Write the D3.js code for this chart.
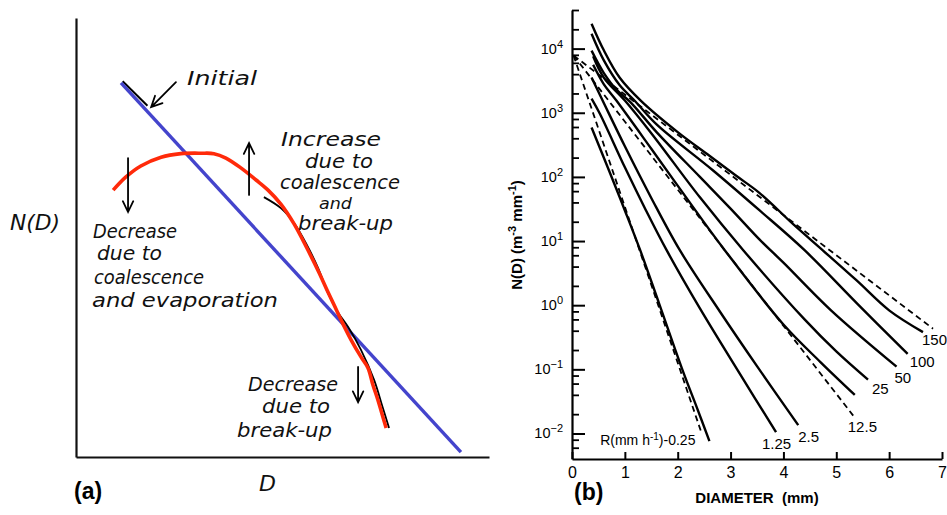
<!DOCTYPE html>
<html><head><meta charset="utf-8">
<script src="https://cdn.jsdelivr.net/npm/d3@7"></script>
<style>body{margin:0;background:#fff}svg{display:block}</style>
</head><body><svg id="c" width="947" height="515"></svg>
<script>
// ---------- Panel (b) data: N(D) [m^-3 mm^-1] vs D [mm] for rain rates ----------
const rateLabels = ["0.25","1.25","2.5","12.5","25","50","100","150"];
const curveR025 = [[0.37,590],[0.7,126],[1.0,30],[1.29,7.2],[1.65,1.05],[2.1,0.093],[2.35,0.027],[2.6,0.0076]];
const curveR125 = [[0.37,1660],[0.53,955],[1.0,141],[1.4,30],[1.79,7.2],[2.42,0.89],[3.2,0.079],[3.86,0.0105]];
const curveR25  = [[0.37,3550],[0.62,1320],[1.0,300],[1.5,47],[2.04,7.2],[2.8,0.79],[3.5,0.112],[4.28,0.0135]];
const curveR125b= [[0.4,5600],[0.6,2800],[0.84,1550],[1.5,275],[2.42,24],[2.89,7.2],[4.0,0.5],[4.7,0.13],[5.35,0.04]];
const curveR25b = [[0.4,7600],[0.6,3550],[1.0,1550],[1.5,480],[2.42,48],[3.24,7.2],[4.4,0.6],[5.0,0.19],[5.6,0.069]];
const curveR50  = [[0.37,9300],[0.6,4200],[0.85,2250],[1.1,1480],[1.6,500],[2.42,100],[3.0,32],[3.55,10.5],[4.0,4.6],[4.9,0.83],[6.14,0.11]];
const curveR100 = [[0.37,17000],[0.6,6600],[0.9,2700],[1.2,1500],[1.6,660],[2.67,126],[3.55,30],[4.4,7.2],[5.4,1.05],[6.35,0.174]];
const curveR150 = [[0.37,24500],[0.6,9500],[0.9,3550],[1.3,1550],[2.0,500],[2.6,214],[3.1,105],[3.55,56],[4.2,17.8],[4.75,7.1],[5.38,2.45],[6.0,0.83],[6.64,0.38]];
const solidCurves = [curveR025, curveR125, curveR25, curveR125b, curveR25b, curveR50, curveR100, curveR150];
// Marshall-Palmer exponential fits (dashed), read as start/end points
const mpR025 = [[0.03,7800],[2.45,0.0102]];
const mpR125 = [[0.03,7800],[5.32,0.019]];
const mpR150 = [[0.03,7800],[6.83,0.43]];
const dashedCurves = [mpR025, mpR125, mpR150];
const xTicksB = [0,1,2,3,4,5,6,7];
const yTickExps = [-2,-1,0,1,2,3,4];
const minorMults = [2,4,6,8];

// ---------- Panel (a) schematic data (arbitrary units) ----------
const initialLine = [[10.9,85.2],[93.2,1.1]];
const finalCurve = [[9.0,60.8],[12.1,63.8],[15.7,66.3],[20.6,68.3],[25.4,69.1],[30.3,69.2],[33.4,69.1],[36.3,68.1],[40.0,65.8],[43.6,63.1],[46.5,60.8],[49.6,57.6],[52.8,53.1],[55.9,47.6],[58.8,42.1],[60.8,38.0],[62.5,34.6],[64.4,30.8],[66.6,26.7],[69.0,22.8],[70.7,20.3],[71.9,16.4],[73.1,13.0],[74.1,9.8],[75.1,6.6]];
const sketchCurve = [[45.5,59.2],[49.6,56.7],[52.8,53.3],[55.9,48.3],[58.6,43.1],[61.0,37.4],[63.4,33.0],[65.9,29.6],[69.0,24.4],[72.2,17.5],[74.1,11.8],[75.8,6.6]];
const sketchStart = [[11.3,85.6],[17.3,80.0]];

const svg = d3.select("#c");
svg.append("rect").attr("width",947).attr("height",515).attr("fill","#fff");
const FB = "'Liberation Sans', Arial, sans-serif";
const FH = "'DejaVu Sans', sans-serif";

// ===== Panel (b) =====
const xB = d3.scaleLinear().domain([0,7]).range([572,942]);
const yB = d3.scaleLog().domain([0.004,40000]).range([459,10]);
const gB = svg.append("g");

const xAx = gB.append("g").attr("transform","translate(0,459)")
  .call(d3.axisBottom(xB).tickValues(xTicksB).tickSizeInner(-7).tickSizeOuter(0).tickPadding(8).tickFormat(d3.format("d")));
xAx.attr("font-family",FB).attr("font-size",16);
xAx.select(".domain").attr("stroke","#000").attr("stroke-width",2.2);
xAx.selectAll(".tick line").attr("stroke","#000").attr("stroke-width",2);
xAx.selectAll(".tick text").attr("fill","#000");

const yMajor = yTickExps.map(e => Math.pow(10,e));
const yMinor = [];
yTickExps.concat([-3]).forEach(e => minorMults.forEach(m => { const v = m*Math.pow(10,e); if (v>0.0041 && v<=40000 && !yMajor.includes(v)) yMinor.push(v); }));

const yAx = gB.append("g").attr("transform","translate(572,0)")
  .call(d3.axisLeft(yB).tickValues(yMajor).tickSizeInner(-13).tickSizeOuter(0).tickFormat(""));
yAx.select(".domain").attr("stroke","#000").attr("stroke-width",2.2);
yAx.selectAll(".tick line").attr("stroke","#000").attr("stroke-width",2);
const yAxMinor = gB.append("g").attr("transform","translate(572,0)")
  .call(d3.axisLeft(yB).tickValues(yMinor).tickSizeInner(-7).tickSizeOuter(0).tickFormat(""));
yAxMinor.select(".domain").remove();
yAxMinor.selectAll(".tick line").attr("stroke","#000").attr("stroke-width",1.8);

// y tick labels 10^n
yTickExps.forEach(e => {
  const t = gB.append("text").attr("x",563).attr("y",yB(Math.pow(10,e))+5)
    .attr("text-anchor","end").attr("font-family",FB).attr("font-size",14.5).attr("fill","#000");
  t.append("tspan").text("10");
  t.append("tspan").attr("dy",-6).attr("font-size",11).text(String(e).replace("-","\u2212"));
});

// y axis title
const yt = gB.append("text").attr("transform","translate(522,235) rotate(-90)")
  .attr("text-anchor","middle").attr("font-family",FB).attr("font-size",15).attr("font-weight","bold").attr("fill","#000");
yt.append("tspan").text("N(D)  (m");
yt.append("tspan").attr("dy",-6).attr("font-size",11).text("-3");
yt.append("tspan").attr("dy",6).text(" mm");
yt.append("tspan").attr("dy",-6).attr("font-size",11).text("-1");
yt.append("tspan").attr("dy",6).text(")");

// x axis title
gB.append("text").attr("x",757).attr("y",503).attr("text-anchor","middle")
  .attr("font-family",FB).attr("font-size",15).attr("font-weight","bold").attr("fill","#000")
  .attr("xml:space","preserve").text("DIAMETER  (mm)");

const lineB = d3.line().x(d => xB(d[0])).y(d => yB(d[1])).curve(d3.curveCatmullRom.alpha(0.5));
gB.selectAll("path.mp").data(dashedCurves).join("path").attr("class","mp")
  .attr("d", lineB).attr("fill","none").attr("stroke","#000").attr("stroke-width",1.8).attr("stroke-dasharray","6,4");
gB.selectAll("path.sol").data(solidCurves).join("path").attr("class","sol")
  .attr("d", lineB).attr("fill","none").attr("stroke","#000").attr("stroke-width",2.4);

// curve labels (offsets relative to the end of each curve)
const labelOffsets = [[-14,4],[-14,17],[0,17],[-7,37],[4,14],[-2,16],[2,13],[-1,13]];
rateLabels.forEach((lab,i) => {
  const c = solidCurves[i], end = c[c.length-1];
  const [dx,dy] = labelOffsets[i];
  const t = gB.append("text").attr("x",xB(end[0])+dx).attr("y",yB(end[1])+dy)
    .attr("font-family",FB).attr("font-size",i===0?14:15).attr("fill","#000")
    .attr("text-anchor", i===0 ? "end" : "start");
  if (i===0) {
    t.append("tspan").text("R(mm h");
    t.append("tspan").attr("dy",-5).attr("font-size",10).text("-1");
    t.append("tspan").attr("dy",5).text(")-" + lab);
  } else t.text(lab);
});

gB.append("text").attr("x",574).attr("y",500).attr("font-family",FB).attr("font-size",23)
  .attr("font-weight","bold").attr("fill","#000").text("(b)");

// ===== Panel (a) =====
const xA = d3.scaleLinear().domain([0,100]).range([76,489]);
const yA = d3.scaleLinear().domain([0,100]).range([457,18]);
const gA = svg.append("g");
const axA1 = gA.append("g").attr("transform","translate(0,457)").call(d3.axisBottom(xA).tickValues([]).tickSizeOuter(0));
const axA2 = gA.append("g").attr("transform","translate(76,0)").call(d3.axisLeft(yA).tickValues([]).tickSizeOuter(0));
[axA1,axA2].forEach(a => a.select(".domain").attr("stroke","#111").attr("stroke-width",2.2));

const lineA = d3.line().x(d => xA(d[0])).y(d => yA(d[1])).curve(d3.curveCatmullRom.alpha(0.5));
gA.append("path").datum(sketchStart).attr("d",lineA).attr("fill","none").attr("stroke","#000").attr("stroke-width",2);
gA.append("path").datum(initialLine).attr("d",lineA).attr("fill","none").attr("stroke","#4444cc").attr("stroke-width",3.4);
gA.append("path").datum(sketchCurve).attr("d",lineA).attr("fill","none").attr("stroke","#000").attr("stroke-width",1.8);
gA.append("path").datum(finalCurve).attr("d",lineA).attr("fill","none").attr("stroke","#ff2a0a").attr("stroke-width",3.6);

// arrows [from, to] in data units
const arrows = [[[24.2,85.4],[18.2,79.7]],[[41.9,59.7],[41.9,71.5]],[[12.6,68.1],[12.6,55.8]],[[68.3,20.5],[68.3,12.5]]];
arrows.forEach(([a,b]) => {
  const x1=xA(a[0]), y1=yA(a[1]), x2=xA(b[0]), y2=yA(b[1]);
  const ang = Math.atan2(y2-y1,x2-x1), L=12, w=0.45;
  const p = `M${x1},${y1}L${x2},${y2}M${x2-L*Math.cos(ang-w)},${y2-L*Math.sin(ang-w)}L${x2},${y2}L${x2-L*Math.cos(ang+w)},${y2-L*Math.sin(ang+w)}`;
  gA.append("path").attr("d",p).attr("fill","none").attr("stroke","#000").attr("stroke-width",1.8).attr("stroke-linecap","round");
});

// handwritten annotations: [text, x, baseline y, width, size]
const notes = [
  ["Initial",187,85,70,19],
  ["Increase",281,146,100,19],["due to",305,168,68,19],["coalescence",280,189,120,19],["and",319,209,33,16],["break-up",298,230,95,19],
  ["Decrease",93,238,84,19],["due to",97,260,65,19],["coalescence",94,284,110,19],["and evaporation",92,307,186,19],
  ["Decrease",248,391,90,19],["due to",262,413,68,19],["break-up",237,437,95,19]
];
notes.forEach(([s,x,y,w,fs]) => {
  gA.append("text").attr("x",x).attr("y",y).attr("font-family",FH).attr("font-style","italic")
    .attr("font-size",fs).attr("fill","#111").attr("textLength",w).attr("lengthAdjust","spacingAndGlyphs").text(s);
});
gA.append("text").attr("x",10).attr("y",230).attr("font-family",FH).attr("font-style","italic")
  .attr("font-size",21).attr("fill","#111").attr("textLength",50).attr("lengthAdjust","spacingAndGlyphs").text("N(D)");
gA.append("text").attr("x",259).attr("y",491).attr("font-family",FH).attr("font-style","italic")
  .attr("font-size",22).attr("fill","#111").text("D");
gA.append("text").attr("x",74).attr("y",499).attr("font-family",FB).attr("font-size",23)
  .attr("font-weight","bold").attr("fill","#000").text("(a)");
</script></body></html>
